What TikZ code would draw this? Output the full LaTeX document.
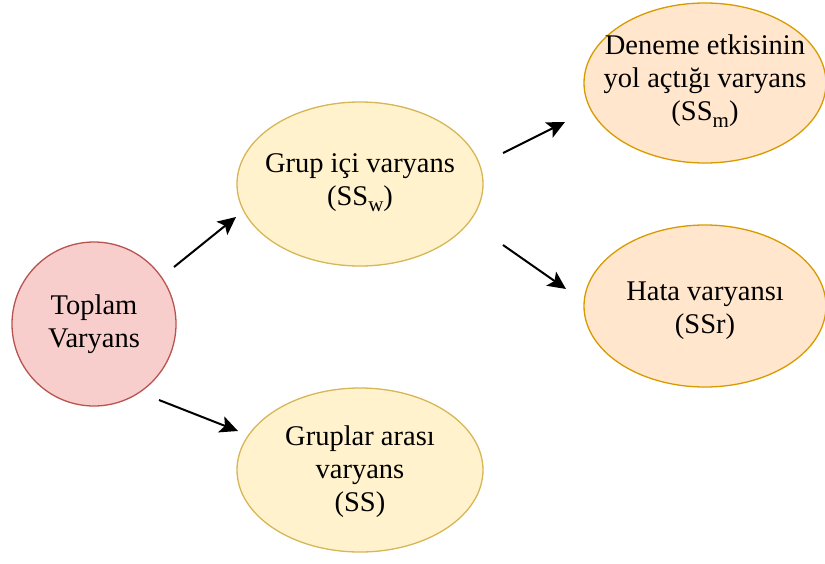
\documentclass[tikz,border=0pt]{standalone}
\usepackage{fontspec}
\setmainfont{Liberation Serif}
\usetikzlibrary{arrows.meta,shapes.geometric}
\newcommand{\mysub}[1]{\raisebox{-0.22em}{\fontsize{21}{21}\selectfont #1}}
\begin{document}
\begin{tikzpicture}[x=1pt,y=-1pt,
  bubble/.style={ellipse,inner sep=0pt,line width=1.3pt},
  lbl/.style={inner sep=0pt,align=center,font=\fontsize{28.5}{33}\selectfont},
  redb/.style={bubble,draw={rgb,255:red,184;green,84;blue,80},fill={rgb,255:red,248;green,206;blue,204}},
  yelb/.style={bubble,draw={rgb,255:red,214;green,182;blue,86},fill={rgb,255:red,255;green,242;blue,204}},
  orab/.style={bubble,draw={rgb,255:red,215;green,155;blue,0},fill={rgb,255:red,255;green,230;blue,204}},
  arr/.style={line width=2pt,-{Stealth[length=18pt,width=17pt,inset=4pt]}}]
\useasboundingbox (0,0) rectangle (825,563);
\node[redb,minimum width=164pt,minimum height=164pt] (top) at (94,324) {};
\node[lbl] (topt) at (top) {Toplam\\Varyans};
\node[yelb,minimum width=246pt,minimum height=164pt] (grup) at (360,184) {};
\node[lbl] (grupt) at (360,183) {Grup içi varyans\\(SS\mysub{w})};
\node[yelb,minimum width=246pt,minimum height=164pt] (arasi) at (360,470) {};
\node[lbl] (arasit) at (360,472) {Gruplar arası\\varyans\\(SS)};
\node[orab,minimum width=242pt,minimum height=160pt] (den) at (705,83) {};
\node[lbl] (dent) at (705,81) {Deneme etkisinin\\yol açtığı varyans\\(SS\mysub{m})};
\node[orab,minimum width=242pt,minimum height=162pt] (hata) at (705,306) {};
\node[lbl] (hatat) at (705,311) {Hata varyansı\\(SSr)};
\coordinate (a1s) at (174,267); \coordinate (a1e) at (236,217);
\coordinate (a2s) at (159,400); \coordinate (a2e) at (238,431);
\coordinate (a3s) at (503,153); \coordinate (a3e) at (565,122);
\coordinate (a4s) at (503,245); \coordinate (a4e) at (566,289);
\draw[arr] (a1s) -- (a1e);
\draw[arr] (a2s) -- (a2e);
\draw[arr] (a3s) -- (a3e);
\draw[arr] (a4s) -- (a4e);
\end{tikzpicture}
\end{document}
